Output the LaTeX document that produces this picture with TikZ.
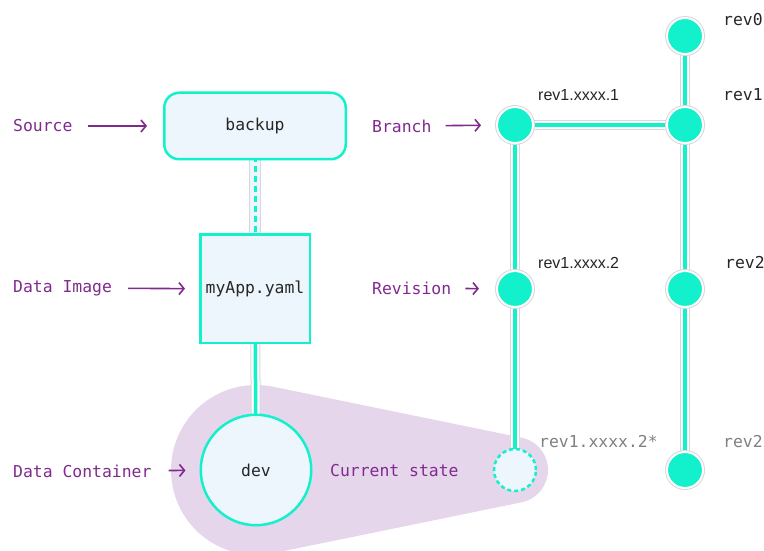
\documentclass[tikz,border=0pt]{standalone}
\usepackage{fontspec}
\setmonofont{DejaVu Sans Mono}
\newfontfamily\labelsans{Liberation Sans}
\usepackage{tikz}
\usetikzlibrary{arrows.meta, positioning, calc, backgrounds}
\usepackage{xcolor}
\definecolor{aqua}{RGB}{18, 240, 204}
\definecolor{boxfill}{RGB}{236, 246, 252}
\definecolor{halo}{RGB}{214, 216, 218}
\definecolor{tagpurple}{RGB}{128, 42, 142}
\definecolor{blobpurple}{RGB}{230, 214, 236}
\definecolor{ghost}{RGB}{128, 128, 128}
\newcommand{\monofs}{\fontsize{16.4}{20}\selectfont\ttfamily}
\tikzstyle{box} = [rectangle, draw=aqua, line width=2.5pt, fill=boxfill, text=black!85, font=\monofs, text centered]
\tikzstyle{revnode} = [circle, minimum size=36pt, inner sep=0pt, fill=aqua, draw=white, line width=2pt, preaction={draw=halo, line width=4pt}]
\tikzstyle{curnode} = [circle, minimum size=42pt, inner sep=0pt, fill=boxfill, draw=aqua, line width=2.5pt, dash pattern=on 4pt off 3pt]
\tikzstyle{tag} = [anchor=west, inner sep=0pt, text=tagpurple, font=\monofs]
\tikzstyle{revlabel} = [anchor=west, inner sep=0pt, text=black!85, font=\monofs]
\tikzstyle{pointer} = [draw=tagpurple, line width=1.6pt, -{Straight Barb[length=5pt,width=12pt]}]
\tikzstyle{link} = [draw=halo, line width=10pt, postaction={draw=white, line width=8pt}, postaction={draw=aqua, line width=3.5pt}]
\tikzstyle{dlink} = [draw=halo, line width=12pt, postaction={draw=boxfill, line width=10pt}, postaction={draw=aqua, line width=3pt, dash pattern=on 6pt off 4pt}]

\begin{document}
\begin{tikzpicture}[x=1pt, y=1pt]
    \useasboundingbox (0,0) rectangle (764,551);

    % Nodes
    \node (backup) [box, rounded corners=15pt, minimum width=181.5pt, minimum height=66.5pt] at (255,425) {backup};
    \node (image) [box, minimum width=109.5pt, minimum height=108.5pt] at (255,262) {myApp.yaml};
    \node (dev) [box, circle, minimum size=110.5pt] at (256,81) {dev};

    \node (rev0) [revnode] at (685,515) {};
    \node (rev1) [revnode] at (685,426) {};
    \node (br1) [revnode] at (515,426) {};
    \node (br2) [revnode] at (515,262) {};
    \node (rev2) [revnode] at (685,262) {};
    \node (rev2b) [revnode] at (685,81) {};
    \node (cur) [curnode] at (515,81) {};

    % Labels
    \node (source) [tag] at (13,425) {Source};
    \node (dimage) [tag] at (13,263) {Data Image};
    \node (dcont) [tag] at (13,80) {Data Container};
    \node (branch) [tag] at (372,425) {Branch};
    \node (revision) [tag] at (372,263) {Revision};
    \node (state) [tag] at (330,80) {Current state};

    \node (lrev0) [revlabel] at (723,531) {rev0};
    \node (lrev1) [revlabel] at (723,456) {rev1};
    \node (lbr1) [revlabel, font=\labelsans\fontsize{16}{19}\selectfont] at (538,456) {rev1.xxxx.1};
    \node (lbr2) [revlabel, font=\labelsans\fontsize{16}{19}\selectfont] at (538,288) {rev1.xxxx.2};
    \node (lrev2) [revlabel] at (725,288) {rev2};
    \node (lcur) [revlabel, text=ghost] at (539,109) {rev1.xxxx.2*};
    \node (lrev2b) [revlabel, text=ghost] at (723,109) {rev2};

    % Arrows
    \draw [pointer, shorten <=15pt, shorten >=16pt] (source) -- (backup);
    \draw [pointer, shorten <=16pt, shorten >=14pt] (dimage) -- (image);
    \draw [pointer, shorten <=17pt, shorten >=14pt] (dcont) -- (dev);
    \draw [pointer, shorten <=14pt, shorten >=15pt] (branch) -- (br1);
    \draw [pointer, shorten <=14pt, shorten >=17pt] (revision) -- (br2);

    \begin{scope}[on background layer]
        \begin{scope}
            \clip (0,0) rectangle (764,551);
            \fill [blobpurple] ([shift={(78.4:85)}]dev.center) -- ([shift={(78.4:33)}]cur.center)
                arc[start angle=78.4, end angle=-78.4, radius=33]
                -- ([shift={(-78.4:85)}]dev.center)
                arc[start angle=-78.4, end angle=-281.6, radius=85] -- cycle;
        \end{scope}
        \draw [dlink] (backup.center) -- (image.center);
        \draw [link] (image.center) -- (dev.center);
        \draw [link] (rev0.center) -- (rev1.center);
        \draw [link] (br1.center) -- (rev1.center);
        \draw [link] (br1.center) -- (br2.center);
        \draw [link] (br2.center) -- (cur.center);
        \draw [link] (rev1.center) -- (rev2.center);
        \draw [link] (rev2.center) -- (rev2b.center);
    \end{scope}
\end{tikzpicture}
\end{document}
